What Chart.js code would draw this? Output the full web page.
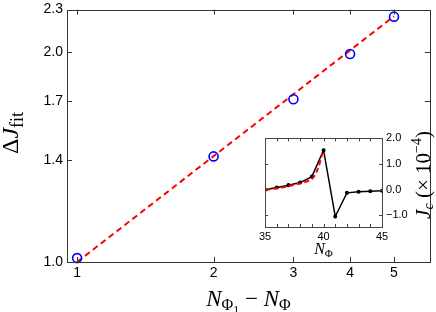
<!DOCTYPE html>
<html>
<head>
<meta charset="utf-8">
<script src="https://cdn.jsdelivr.net/npm/chart.js@4.4.1/dist/chart.umd.min.js"></script>
<style>
  html, body { margin: 0; padding: 0; background: #fff; }
  #wrap { position: relative; width: 436px; height: 312px; }
  #main { position: absolute; left: 0; top: 0; }
  #inset { position: absolute; left: 256px; top: 130px; }
</style>
</head>
<body>
<div id="wrap">
  <canvas id="main" width="436" height="312"></canvas>
  <canvas id="inset" width="180" height="132"></canvas>
</div>
<script>
// main panel: fitted gap vs flux difference (log-log)
const nDiff = [1, 2, 3, 4, 5];
const deltaJ = [1.013, 1.417, 1.711, 1.987, 2.247];
const fitN = [1, 5];
const fitJ = [1.0, 2.25];
const xTicks = [1, 2, 3, 4, 5];
const yTicks = [1.0, 1.4, 1.7, 2.0, 2.3];

// inset: Jc vs N_phi
const nPhi = [35, 36, 37, 38, 39, 40, 41, 42, 43, 44, 45];
const jc = [0.0, 0.09, 0.18, 0.28, 0.51, 1.54, -1.04, -0.12, -0.08, -0.06, -0.04];
const fitPhi = [35, 36, 37, 38, 39, 39.5, 39.9];
const fitJc = [0.0, 0.06, 0.14, 0.25, 0.42, 0.8, 1.42];
const insetXTicks = [35, 40, 45];
const insetMinorX = [35, 36, 37, 38, 39, 40, 41, 42, 43, 44, 45];
const insetYTicks = [-1, 0, 1, 2];

const SERIF = '"Liberation Serif", "DejaVu Serif", serif';
const SANS = '"Liberation Sans", Arial, sans-serif';

function richText(ctx, parts, x, y, rot) {
  ctx.save();
  ctx.translate(x, y);
  if (rot) ctx.rotate(rot);
  let w = 0;
  parts.forEach(p => { ctx.font = p[1]; w += ctx.measureText(p[0]).width; });
  let cx = -w / 2;
  ctx.fillStyle = '#000';
  ctx.textBaseline = 'alphabetic';
  parts.forEach(p => {
    ctx.font = p[1];
    ctx.fillText(p[0], cx, p[2] || 0);
    cx += ctx.measureText(p[0]).width;
  });
  ctx.restore();
}

// frame + inward tick marks + axis titles
function decor(o) {
  return {
    id: 'decor',
    beforeDraw(chart) {
      if (!o.fillArea) return;
      const a = chart.chartArea, ctx = chart.ctx;
      ctx.save();
      ctx.fillStyle = '#fff';
      ctx.fillRect(a.left, a.top, a.right - a.left, a.bottom - a.top);
      ctx.restore();
    },
    afterDraw(chart) {
      const a = chart.chartArea, ctx = chart.ctx;
      const xs = chart.scales.x, ys = chart.scales.y;
      ctx.save();
      ctx.strokeStyle = o.color;
      ctx.lineWidth = 1;
      ctx.beginPath();
      o.xMarks.forEach(v => {
        const px = Math.round(xs.getPixelForValue(v)) + 0.5;
        ctx.moveTo(px, a.bottom); ctx.lineTo(px, a.bottom - o.len);
        ctx.moveTo(px, a.top); ctx.lineTo(px, a.top + o.len);
      });
      o.yMarks.forEach(v => {
        const py = Math.round(ys.getPixelForValue(v)) + 0.5;
        ctx.moveTo(a.left, py); ctx.lineTo(a.left + o.len, py);
        ctx.moveTo(a.right, py); ctx.lineTo(a.right - o.len, py);
      });
      ctx.stroke();
      ctx.strokeRect(Math.round(a.left) + 0.5, Math.round(a.top) + 0.5,
        Math.round(a.right - a.left), Math.round(a.bottom - a.top));
      ctx.restore();
      o.titles.forEach(t => richText(ctx, t.parts, t.x(a), t.y(a), t.rot));
    }
  };
}

function fixedTicks(list) {
  return scale => { scale.ticks = list.map(v => ({ value: v })); };
}

new Chart(document.getElementById('main'), {
  type: 'scatter',
  data: {
    datasets: [
      {
        data: nDiff.map((x, i) => ({ x, y: deltaJ[i] })),
        pointRadius: 4.5,
        borderColor: '#0000ff',
        borderWidth: 1.6,
        backgroundColor: 'rgba(0,0,0,0)',
        clip: false,
        order: 1
      },
      {
        data: fitN.map((x, i) => ({ x, y: fitJ[i] })),
        showLine: true,
        borderColor: '#ff0000',
        borderWidth: 2,
        borderDash: [6, 4],
        pointRadius: 0,
        order: 2
      }
    ]
  },
  options: {
    responsive: false,
    animation: false,
    layout: { padding: { top: 6, right: 2, left: 0, bottom: 0 } },
    plugins: { legend: { display: false }, tooltip: { enabled: false } },
    scales: {
      x: {
        type: 'logarithmic',
        min: 0.95,
        max: 6,
        afterBuildTicks: fixedTicks(xTicks),
        afterFit: s => { s.height = 50; },
        grid: { display: false, drawTicks: false },
        border: { display: false },
        ticks: {
          callback: v => String(v),
          font: { family: SANS, size: 14 },
          color: '#000',
          padding: 3,
          maxRotation: 0,
          autoSkip: false
        }
      },
      y: {
        type: 'logarithmic',
        min: 1.0,
        max: 2.3,
        afterBuildTicks: fixedTicks(yTicks),
        afterFit: s => { s.width = 67; },
        grid: { display: false, drawTicks: false },
        border: { display: false },
        ticks: {
          callback: v => Number(v).toFixed(1),
          font: { family: SANS, size: 14, lineHeight: 0.8 },
          color: '#000',
          padding: 4,
          autoSkip: false
        }
      }
    }
  },
  plugins: [decor({
    color: '#333',
    len: 5,
    xMarks: xTicks,
    yMarks: yTicks,
    titles: [
      {
        parts: [['N', 'italic 23px ' + SERIF], ['Φ', '16px ' + SERIF, 4], ['1', '12px ' + SERIF, 8],
                [' − ', '23px ' + SERIF], ['N', 'italic 23px ' + SERIF], ['Φ', '16px ' + SERIF, 4]],
        x: a => (a.left + a.right) / 2, y: a => 306
      },
      {
        parts: [['Δ', '24px ' + SERIF], ['J', 'italic 24px ' + SERIF], ['fit', '18px ' + SERIF, 5]],
        x: a => 18, y: a => 133, rot: -Math.PI / 2
      }
    ]
  })]
});

new Chart(document.getElementById('inset'), {
  type: 'scatter',
  data: {
    datasets: [
      {
        data: fitPhi.map((x, i) => ({ x, y: fitJc[i] })),
        showLine: true,
        borderColor: '#ff0000',
        borderWidth: 2,
        borderDash: [5, 3],
        pointRadius: 0,
        tension: 0.3,
        order: 1
      },
      {
        data: nPhi.map((x, i) => ({ x, y: jc[i] })),
        showLine: true,
        borderColor: '#000',
        borderWidth: 1.5,
        pointRadius: 1.3,
        backgroundColor: '#000',
        order: 2
      }
    ]
  },
  options: {
    responsive: false,
    animation: false,
    layout: { padding: { top: 7, right: 0, left: 7, bottom: 0 } },
    plugins: { legend: { display: false }, tooltip: { enabled: false } },
    scales: {
      x: {
        type: 'linear',
        min: 35,
        max: 45,
        afterBuildTicks: fixedTicks(insetXTicks),
        afterFit: s => { s.height = 35; },
        grid: { display: false, drawTicks: false },
        border: { display: false },
        ticks: {
          callback: v => String(v),
          font: { family: SANS, size: 11 },
          color: '#000',
          padding: 3,
          maxRotation: 0,
          autoSkip: false
        }
      },
      y: {
        type: 'linear',
        position: 'right',
        min: -1.45,
        max: 2.0,
        afterBuildTicks: fixedTicks(insetYTicks),
        afterFit: s => { s.width = 54; },
        grid: { display: false, drawTicks: false },
        border: { display: false },
        ticks: {
          callback: v => (v < 0 ? '−' : '') + Math.abs(v).toFixed(1),
          font: { family: SANS, size: 11, lineHeight: 0.8 },
          color: '#000',
          padding: 4,
          autoSkip: false
        }
      }
    }
  },
  plugins: [decor({
    color: '#444',
    len: 3,
    fillArea: true,
    xMarks: insetMinorX,
    yMarks: insetYTicks,
    titles: [
      {
        parts: [['N', 'italic 16px ' + SERIF], ['Φ', '11px ' + SERIF, 3]],
        x: a => (a.left + a.right) / 2, y: a => 124
      },
      {
        parts: [['J', 'italic 21px ' + SERIF], ['c', 'italic 14px ' + SERIF, 3], [' (', '21px ' + SERIF],
                ['× ', '21px ' + SERIF], ['10', '21px ' + SERIF], ['−4', '14px ' + SERIF, -9], [')', '21px ' + SERIF]],
        x: a => 174, y: a => 45, rot: -Math.PI / 2
      }
    ]
  })]
});
</script>
</body>
</html>
